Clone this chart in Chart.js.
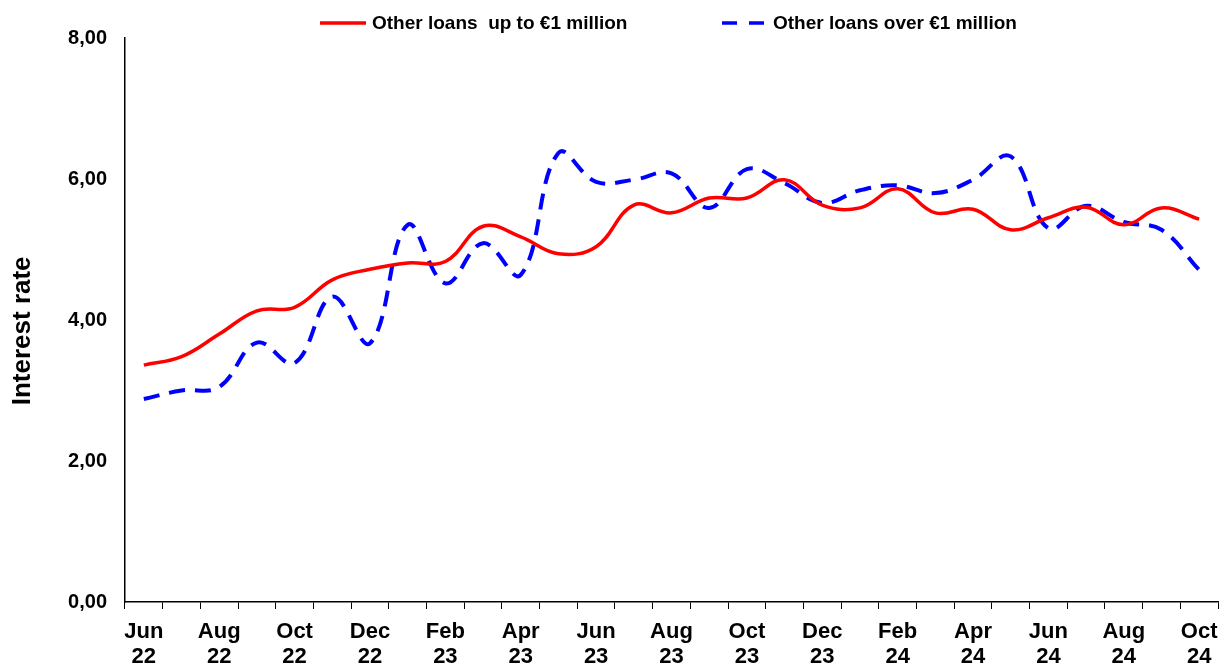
<!DOCTYPE html>
<html>
<head>
<meta charset="utf-8">
<script src="https://cdn.jsdelivr.net/npm/chart.js@4"></script>
<style>
  html, body { margin: 0; padding: 0; background: #fff; }
  #wrap { width: 1224px; height: 668px; }
</style>
</head>
<body>
<div id="wrap"><canvas id="rateChart" width="1224" height="668"></canvas></div>
<script>
// monthly categories, Jun 22 .. Oct 24
const months = ['Jun','Jul','Aug','Sep','Oct','Nov','Dec',
  'Jan','Feb','Mar','Apr','May','Jun','Jul','Aug','Sep','Oct','Nov','Dec',
  'Jan','Feb','Mar','Apr','May','Jun','Jul','Aug','Sep','Oct'];
const years = ['22','22','22','22','22','22','22',
  '23','23','23','23','23','23','23','23','23','23','23','23',
  '24','24','24','24','24','24','24','24','24','24'];

const upTo1m = [3.36,3.48,3.80,4.13,4.18,4.57,4.72,4.81,4.83,5.33,5.18,4.94,5.04,5.63,5.52,
  5.73,5.73,5.99,5.63,5.59,5.86,5.52,5.57,5.28,5.45,5.60,5.35,5.59,5.43];
const over1m = [2.88,3.00,3.05,3.68,3.39,4.33,3.67,5.35,4.52,5.09,4.64,6.37,5.96,5.99,6.08,
  5.59,6.14,5.94,5.66,5.84,5.91,5.80,5.99,6.32,5.30,5.62,5.39,5.28,4.71];

const yTicks = [0, 2, 4, 6, 8];

const labels = months.map((m, i) => m + ' ' + years[i]);
const FONT = 'Liberation Sans, Arial, sans-serif';

// legend drawn by hand to sit where the original one does
const topLegend = {
  id: 'topLegend',
  afterDraw(chart) {
    const ctx = chart.ctx;
    ctx.save();
    ctx.lineWidth = 3.5;
    ctx.strokeStyle = '#ff0000';
    ctx.beginPath();
    ctx.moveTo(320, 23); ctx.lineTo(366, 23);
    ctx.stroke();
    ctx.strokeStyle = '#0000ff';
    ctx.setLineDash([15, 12]);
    ctx.beginPath();
    ctx.moveTo(722, 23); ctx.lineTo(765, 23);
    ctx.stroke();
    ctx.setLineDash([]);
    ctx.fillStyle = '#000';
    ctx.font = 'bold 19px ' + FONT;
    ctx.textBaseline = 'middle';
    ctx.fillText('Other loans  up to €1 million', 372, 24);
    ctx.fillText('Other loans over €1 million', 773, 24);
    ctx.restore();
  }
};

new Chart(document.getElementById('rateChart'), {
  type: 'line',
  data: {
    labels: labels,
    datasets: [{
      label: 'Other loans up to €1 million',
      data: upTo1m,
      borderColor: '#ff0000',
      borderWidth: 3.5,
      pointRadius: 0,
      tension: 0.4,
      fill: false
    }, {
      label: 'Other loans over €1 million',
      data: over1m,
      borderColor: '#0000ff',
      borderWidth: 4,
      borderDash: [16, 10],
      pointRadius: 0,
      tension: 0.4,
      fill: false
    }]
  },
  options: {
    responsive: false,
    animation: false,
    layout: { padding: { top: 38, right: 6, left: 0, bottom: 0 } },
    plugins: {
      legend: { display: false },
      tooltip: { enabled: false }
    },
    scales: {
      x: {
        offset: true,
        grid: { offset: true, drawOnChartArea: false, drawTicks: true, tickLength: 7, color: '#000' },
        border: { display: true, color: '#000', width: 1.5 },
        ticks: {
          autoSkip: false,
          maxRotation: 0,
          padding: 10,
          color: '#000',
          font: { family: FONT, size: 22, weight: 'bold', lineHeight: 1.14 },
          callback: (v, i) => i % 2 === 0 ? [months[i], years[i]] : ''
        },
        afterFit: s => { s.height = 66; s.paddingLeft = 0; s.paddingRight = 0; }
      },
      y: {
        min: 0,
        max: 8,
        afterBuildTicks: s => { s.ticks = yTicks.map(v => ({ value: v })); },
        grid: { drawOnChartArea: false, drawTicks: false },
        border: { display: true, color: '#000', width: 1.5 },
        ticks: {
          padding: 18,
          color: '#000',
          font: { family: FONT, size: 20, weight: 'bold' },
          callback: v => v.toFixed(2).replace('.', ',')
        },
        title: {
          display: true,
          text: 'Interest rate   ',
          color: '#000',
          font: { family: FONT, size: 26, weight: 'bold' },
          padding: { top: 7, bottom: 0 }
        },
        afterFit: s => { s.width = 125; }
      }
    }
  },
  plugins: [topLegend]
});
</script>
</body>
</html>
